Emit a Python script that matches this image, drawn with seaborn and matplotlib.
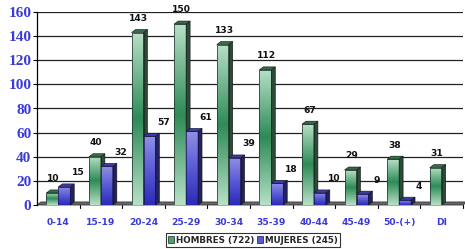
import numpy as np
import pandas as pd
import matplotlib
matplotlib.use("Agg")
import matplotlib.pyplot as plt
import seaborn as sns
from matplotlib.colors import LinearSegmentedColormap
from matplotlib.patches import Polygon, Patch

categories = ["0-14", "15-19", "20-24", "25-29", "30-34", "35-39", "40-44", "45-49", "50-(+)", "DI"]
hombres = [10, 40, 143, 150, 133, 112, 67, 29, 38, 31]
mujeres = [15, 32, 57, 61, 39, 18, 10, 9, 4, 0]
series = ["HOMBRES (722)", "MUJERES (245)"]

df = pd.DataFrame({
    "cat": categories * 2,
    "val": hombres + mujeres,
    "serie": [series[0]] * len(categories) + [series[1]] * len(categories),
})

sns.set_theme(style="white")
plt.rcParams["font.family"] = ["DejaVu Sans"]

fig = plt.figure(figsize=(4.65, 2.49), dpi=100)
ax = fig.add_axes([37 / 465, 1 - 205 / 249, (463 - 37) / 465, (205 - 12) / 249])

pal = {series[0]: "#4aa070", series[1]: "#5050d0"}
sns.barplot(data=df, x="cat", y="val", hue="serie", order=categories, hue_order=series,
            palette=pal, width=0.56, dodge=True, ax=ax, legend=False, saturation=1)

ax.set_xlim(-0.5, 9.5)
ax.set_ylim(0, 160)
ax.set_yticks(range(0, 161, 20))
ax.set_xlabel("")
ax.set_ylabel("")
ax.yaxis.grid(True, color="#222222", lw=0.9, zorder=0)
ax.set_axisbelow(True)
for s in ["top", "right", "bottom"]:
    ax.spines[s].set_visible(False)
ax.spines["left"].set_color("black")
ax.spines["left"].set_linewidth(0.9)
ax.tick_params(axis="y", left=True, length=3, width=0.8, color="black", pad=1)
ax.tick_params(axis="x", bottom=False, pad=3)
for t in ax.get_yticklabels():
    t.set_fontfamily("Liberation Serif")
    t.set_fontweight("bold")
    t.set_fontsize(11)
    t.set_color("#3a3ad8")
for t in ax.get_xticklabels():
    t.set_fontfamily("DejaVu Sans")
    t.set_fontweight("bold")
    t.set_fontsize(6.6)
    t.set_color("#3a3ad8")

# minor ticks at category boundaries
for b in np.arange(0.5, 9.6, 1.0):
    ax.plot([b, b], [0, -2.5], color="black", lw=0.8, clip_on=False, zorder=1)

dx, dy = 0.094, 2.5

# floor
floor = Polygon([(-0.5, 0), (9.5, 0), (9.5 + dx, dy), (-0.5 + dx, dy)], closed=True,
                facecolor="#666666", edgecolor="#333333", lw=0.6, zorder=1.5, clip_on=False)
ax.add_patch(floor)

green_cmap = LinearSegmentedColormap.from_list("g", ["#b8e0c8", "#2e8b57", "#b8e0c8"])
blue_cmap = LinearSegmentedColormap.from_list("b", ["#9090e4", "#5a5ad6", "#2a2ab8"])

patches = list(ax.patches)
n = len(categories)
grad = np.linspace(0, 1, 256).reshape(-1, 1)
for i, p in enumerate(patches[:2 * n]):
    is_green = i < n
    x0 = p.get_x()
    w = p.get_width()
    h = p.get_height()
    x1 = x0 + w
    z = 3 if is_green else 5
    if h <= 0:
        p.set_visible(False)
        continue
    p.set_facecolor("none")
    p.set_edgecolor("#1a2a20" if is_green else "#15154a")
    p.set_linewidth(0.5)
    p.set_zorder(z + 0.5)
    cmap = green_cmap if is_green else blue_cmap
    im = ax.imshow(grad, cmap=cmap, aspect="auto", extent=(x0, x1, 0, h),
                   origin="upper", zorder=z, interpolation="bilinear")
    im.set_clip_path(p)
    side_c = "#2b4a38" if is_green else "#22225e"
    top_c = "#2f6e48" if is_green else "#3a3aa8"
    side = Polygon([(x1, 0), (x1, h), (x1 + dx, h + dy), (x1 + dx, dy)], closed=True,
                   facecolor=side_c, edgecolor="#111111", lw=0.4, zorder=z)
    top = Polygon([(x0, h), (x1, h), (x1 + dx, h + dy), (x0 + dx, h + dy)], closed=True,
                  facecolor=top_c, edgecolor="#111111", lw=0.4, zorder=z)
    ax.add_patch(side)
    ax.add_patch(top)
    xo = 1 if is_green else 10
    ax.annotate(f"{int(h)}", (x0 + w / 2, h + dy), xytext=(xo, 8), textcoords="offset points",
                ha="center", va="center", fontsize=6.6, fontweight="bold", color="#111111",
                zorder=10, annotation_clip=False)

handles = [Patch(facecolor="#4aa070", edgecolor="#1a2a20", lw=0.5),
           Patch(facecolor="#5a5ad6", edgecolor="#15154a", lw=0.5)]
leg = fig.legend(handles, series, loc="center", bbox_to_anchor=(253 / 465, 1 - 240 / 249),
                 ncol=2, frameon=True, fontsize=6.3, handlelength=0.7, handleheight=0.7,
                 handletextpad=0.2, columnspacing=0.3, borderpad=0.3, borderaxespad=0,
                 fancybox=False, prop={"weight": "bold", "size": 6.3})
leg.get_frame().set_edgecolor("black")
leg.get_frame().set_linewidth(0.8)

fig.savefig("out.png", dpi=100)
